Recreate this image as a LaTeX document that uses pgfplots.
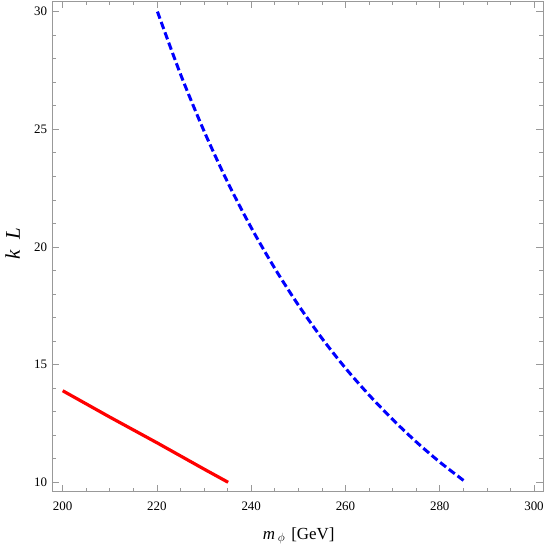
\documentclass[border=0pt]{standalone}
\usepackage{fontspec}
\setmainfont{Liberation Serif}
\usepackage{pgfplots}
\pgfplotsset{compat=1.18}
\definecolor{framegray}{gray}{0.6}

\begin{document}
\begin{tikzpicture}
\useasboundingbox (-52bp,-59.3bp) rectangle (493bp,491.7bp);
\begin{axis}[
  at={(0,0)}, anchor=south west,
  scale only axis, width=491bp, height=490.2bp,
  xmin=197.73, xmax=301.91, ymin=9.6, ymax=30.43,
  xtick={200,220,...,300}, ytick={10,15,...,30},
  minor x tick num=3, minor y tick num=4,
  tick align=inside, major tick length=7bp, minor tick length=4bp,
  axis line style={framegray, line width=0.9bp},
  tick style={framegray, line width=0.7bp},
  /pgf/number format/assume math mode=true,
  ticklabel style={font=\fontsize{13}{13}\selectfont, inner sep=0pt},
  xticklabel style={anchor=north, yshift=-10bp},
  yticklabel style={anchor=east, xshift=-4.7bp},
  xlabel={\textit{m}\,$_{\phi}$\hspace{6bp}[GeV]},
  ylabel={\textit{k\hspace{0.5em}L}},
  xlabel style={font=\fontsize{17}{17}\selectfont,
    at={(axis description cs:0.5024,-0.0965)}, anchor=base},
  ylabel style={font=\fontsize{21}{21}\selectfont,
    at={(axis description cs:-0.0804,0.5063)}, anchor=center},
]
% lower bound (solid red)
\addplot[red, line width=3.2bp] coordinates {
  (200,13.89) (210,12.77) (220,11.68) (230,10.56) (235.1,10.0)
};
% upper bound (dashed blue)
\addplot[blue, line width=3bp, dash pattern=on 7.5bp off 3.5bp, smooth] coordinates {
  (220.1,30.0) (225,27.34) (230,24.92) (235,22.75) (240,20.82)
  (245,19.09) (250,17.53) (255,16.12) (260,14.85) (265,13.71)
  (270,12.67) (275,11.72) (280,10.86) (285.5,10.01)
};
\end{axis}
\end{tikzpicture}
\end{document}
